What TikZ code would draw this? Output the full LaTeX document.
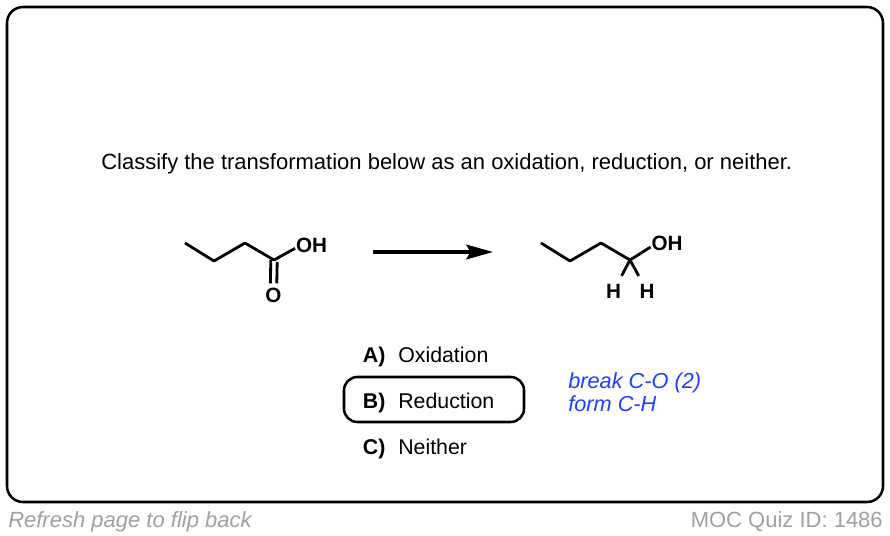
\documentclass[tikz,border=0pt]{standalone}
\usepackage{fontspec}
\setmainfont{Liberation Sans}
\usetikzlibrary{arrows.meta}
\definecolor{noteblue}{RGB}{28,64,255}
\definecolor{footgray}{RGB}{160,160,160}
\begin{document}
\begin{tikzpicture}
[x=0.75pt,y=-0.75pt,
  framedecorate/.style={draw,line width=1.9pt,rounded corners=12pt},
  bonddecorate/.style={-,line width=2.1pt,line join=round},
  arrowdecorate/.style={-{Stealth[length=20pt,width=11pt,inset=3pt]},line width=2.5pt},
  atomdecorate/.style={font=\bfseries\fontsize{15.5}{18}\selectfont,inner sep=0.5pt},
  textdecorate/.style={anchor=base west,inner sep=0pt,font=\fontsize{16}{19}\selectfont},
  choicedecorate/.style={textdecorate,font=\bfseries\fontsize{16}{19}\selectfont},
  notedecorate/.style={textdecorate,text=noteblue,font=\itshape\fontsize{16.3}{19}\selectfont},
  footdecorate/.style={inner sep=0pt,text=footgray,font=\fontsize{16.5}{19}\selectfont}]
\useasboundingbox (0,0) rectangle (890,536);
%% card
\draw[framedecorate] (7,7) rectangle (883,502);
\node (question) at (101,169) [textdecorate,font=\fontsize{16.5}{19}\selectfont]
  {Classify the transformation below as an oxidation, reduction, or neither.};
%% carbons or vertices
\foreach \nodename/\x/\y in {a1/185/243, a2/214/261, a3/245/243, a4/274/260,
  b1/541/243, b2/570/261, b3/601/243, b4/630/260} {
  \coordinate (\nodename) at (\x,\y);
}
%% atom labels
\node (oha) at (311.5,245) [atomdecorate] {OH};
\node (oa) at (273.5,295) [atomdecorate] {O};
\node (ohb) at (667,243.7) [atomdecorate] {OH};
\node (hb1) at (613.5,291) [atomdecorate] {H};
\node (hb2) at (647,291) [atomdecorate] {H};
%% bonds or lines
\draw[bonddecorate] (a1) -- (a2) -- (a3) -- (a4) -- ([yshift=-2.5pt]oha.west);
\draw[bonddecorate,shorten >=2.5pt] ([xshift=-2.4pt]a4) -- ([xshift=-2.4pt]oa.north);
\draw[bonddecorate,shorten >=2.5pt] ([xshift=2.4pt,yshift=-1.5pt]a4) -- ([xshift=2.4pt]oa.north);
\draw[bonddecorate] (b1) -- (b2) -- (b3) -- (b4) -- ([yshift=-2.5pt]ohb.west);
\draw[bonddecorate,shorten >=6pt] (b4) -- (hb1);
\draw[bonddecorate,shorten >=6pt] (b4) -- (hb2);
%% reaction arrow
\coordinate (arrowstart) at (373,252);
\coordinate (arrowend) at (493,252);
\draw[arrowdecorate] (arrowstart) -- (arrowend);
%% choices
\foreach \nodename/\letter/\word/\y in {a/A)/Oxidation/362, b/B)/Reduction/408,
  c/C)/Neither/454} {
  \node (label\nodename) at (362.7,\y) [choicedecorate] {\letter};
  \node (word\nodename) at (398,\y) [textdecorate] {\word};
}
\draw[framedecorate,rounded corners=10pt] (344,377) rectangle (524,422);
%% note
\node (notebreak) at (568,388) [notedecorate] {break C-O (2)};
\node (noteform) at (568,411) [notedecorate] {form C-H};
%% footer
\node (footleft) at (8,527) [footdecorate,anchor=base west,
  font=\itshape\fontsize{16.5}{19}\selectfont] {Refresh page to flip back};
\node (footright) at (883,527) [footdecorate,anchor=base east] {MOC Quiz ID: 1486};
\end{tikzpicture}
\end{document}
